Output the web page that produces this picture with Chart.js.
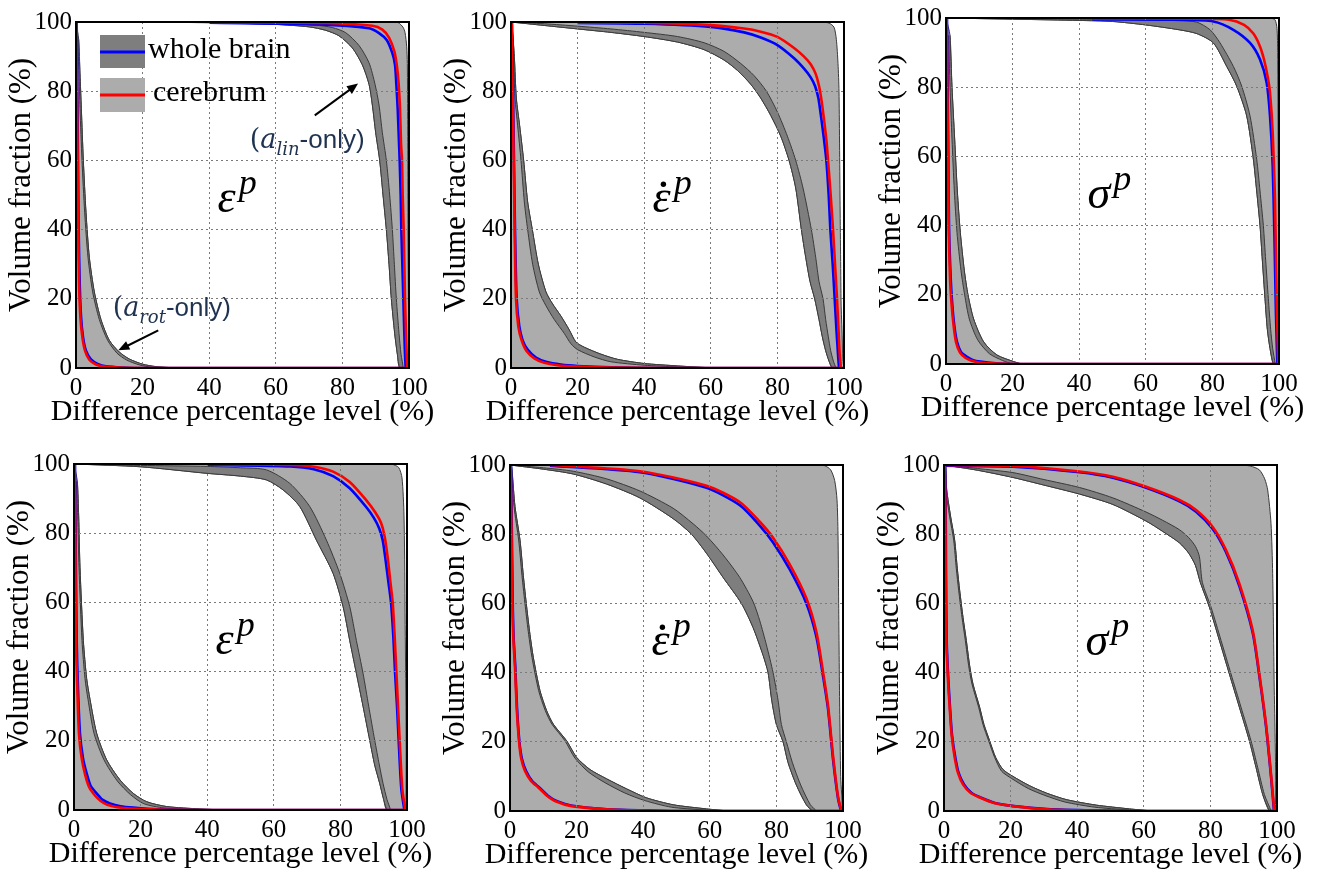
<!DOCTYPE html>
<html>
<head>
<meta charset="utf-8">
<script src="https://cdn.jsdelivr.net/npm/chart.js@4.4.1/dist/chart.umd.min.js"></script>
<style>
  body { margin: 0; background: #fff; width: 1326px; height: 872px; position: relative; overflow: hidden; }
  canvas { position: absolute; }
</style>
</head>
<body>
<canvas id="c0" width="440" height="430" style="left:0px;top:0px"></canvas>
<canvas id="c1" width="440" height="430" style="left:435px;top:0px"></canvas>
<canvas id="c2" width="440" height="430" style="left:870px;top:-4px"></canvas>
<canvas id="c3" width="440" height="430" style="left:-2px;top:442px"></canvas>
<canvas id="c4" width="440" height="430" style="left:434px;top:443px"></canvas>
<canvas id="c5" width="440" height="430" style="left:868px;top:443px"></canvas>
<script>
// axis / labels
const tickValues = [0, 20, 40, 60, 80, 100];
const xTitle = 'Difference percentage level (%)';
const yTitle = 'Volume fraction (%)';
const legendLabels = ['whole brain', 'cerebrum'];
const symbols = ['ε', 'ε', 'σ', 'ε', 'ε', 'σ'];
const symbolDot = [false, true, false, false, true, false];

// curves are [x, y] pairs
// rotA/rotB = edges of the dark band of the a_rot-only group, linA/linB = same for a_lin-only
// linEdge = right edge of the light band, blue = whole brain, red = cerebrum

// panel 1 (top left, eps)
const p1RotA = [[0.5,95],[0.9,85],[1.2,75],[1.8,60],[2.6,45],[3.6,32],[5,22],[7,14],[9.5,8],[12.3,4.3],[15.2,2.3],[19,0.9],[23,0.2],[28,0]];
const p1RotB = [[0.8,95],[1.2,85],[1.6,75],[2.2,60],[3,45],[4,32],[5.5,22],[7.5,14],[10,8],[13,4.6],[16,2.6],[20,1.1],[24,0.4],[30,0]];
const p1RotBlue = [[0.2,100],[0.4,80],[0.6,60],[0.8,40],[1.1,25],[1.5,15],[2.1,9],[3,5],[4.5,2.5],[6.5,1.2],[9,0.5],[14,0.15],[20,0],[100,0]];
const p1RotRed = [[0.1,100],[0.3,80],[0.5,60],[0.7,40],[0.9,25],[1.3,15],[1.9,9],[2.7,5],[4,2.4],[6,1],[8.5,0.4],[13,0.1],[20,0],[100,0]];
const p1LinA = [[0,100],[40,99.8],[60,99.3],[70,98.6],[75,97.6],[79,96],[83,92.5],[86,87.6],[88,82],[89,76],[90,68],[91.2,60],[92.2,50],[93.2,40],[94,30],[94.7,20],[95.7,10],[96.5,4],[97.2,0]];
const p1LinB = [[0,100],[45,99.9],[62,99.6],[72,99.1],[77,98.4],[81,96.9],[85,93.2],[88,88.2],[89.8,82],[91,76],[92,68],[93.2,60],[94.2,50],[95,40],[95.6,30],[96.2,20],[97,10],[97.6,4],[98.2,0]];
const p1LinBlue = [[40,99.8],[73,99.3],[88,98.2],[91,96.8],[93.3,94.8],[95,91],[95.8,87.6],[96.2,82],[96.6,75],[97,65],[97.2,60],[97.5,50],[97.7,40],[98,30],[98.3,20],[98.6,10],[98.8,4],[99,0]];
const p1LinRed = [[40,100],[75,99.7],[89,98.9],[92,97.8],[94,95.5],[95.6,91.5],[96.4,87],[96.9,82],[97.3,75],[97.6,65],[97.9,60],[98.1,50],[98.4,40],[98.6,30],[98.8,20],[99.1,10],[99.3,4],[99.5,0]];
const p1LinEdge = [[95,100],[96.8,99.8],[98.2,98.5],[98.8,97],[99.3,93],[99.5,88],[99.6,70],[99.7,40],[99.8,0]];

// panel 2 (top middle, eps dot)
const p2RotA = [[0.3,98],[0.8,90],[1.2,78],[2,70],[3,60],[4,48],[5,40],[6.5,30],[8.5,22],[10.5,18],[13,14],[16,10],[18,7],[20,5.3],[25,3.2],[30,1.8],[40,0.8],[50,0.3],[58,0]];
const p2RotB = [[0.4,98],[1,90],[1.6,78],[2.6,70],[3.8,60],[5,48],[6.4,40],[8.2,30],[10.5,22],[12.5,18.5],[15,15],[17.5,11],[19.5,7.5],[22,6],[27,4],[32,2.5],[40,1.3],[50,0.6],[60,0]];
const p2RotBlue = [[0.3,100],[0.6,80],[0.9,60],[1.2,40],[1.7,20],[2.5,12],[3.5,8],[5,5.3],[7.5,3],[10.5,1.8],[15,1],[20,0.6],[30,0.2],[45,0],[100,0]];
const p2RotRed = [[0.2,100],[0.5,80],[0.8,60],[1.1,40],[1.5,20],[2.2,12],[3.2,8],[4.6,5],[7,2.8],[10,1.5],[14,0.8],[20,0.4],[30,0.1],[45,0],[100,0]];
const p2LinA = [[0,100],[10,99],[20,98],[30,97],[40,95.8],[50,94.2],[58,92],[64,89],[68,86],[72,82],[75,78],[78,73],[81,67],[83.5,60],[85.5,52],[87.2,40],[88.5,32],[89.8,25],[91.2,20],[92.5,14],[93.5,9],[94.5,5],[95.5,2],[96.5,0]];
const p2LinB = [[0,100],[10,99.5],[20,98.8],[30,98],[40,97],[50,95.8],[58,94],[64,91.5],[69,88],[73,84.5],[76.7,80],[80,74],[83,67],[85.5,60],[87.7,52],[90.2,40],[91.5,32],[92.5,25],[93.7,20],[94.5,14],[95.3,9],[96,5],[96.8,2],[97.5,0]];
const p2LinBlue = [[20,99.7],[40,99.5],[60,98.6],[70,97],[75,95.5],[80,93.3],[85,89.5],[88,86.5],[90,84],[91.3,81.5],[92.3,78],[93.2,72],[94,66],[94.7,60],[95.4,50],[95.9,40],[96.6,30],[97.2,20],[97.8,10],[98.2,4],[98.5,0]];
const p2LinRed = [[20,99.9],[40,99.8],[60,99.1],[70,98.1],[75,97.2],[80,95.7],[85,92.5],[88,90],[90,87.8],[91.5,85],[92.5,81.5],[93.3,77],[94.1,71],[94.8,65],[95.2,60],[96,50],[96.7,40],[97.3,30],[97.9,20],[98.4,10],[98.7,4],[99,0]];
const p2LinEdge = [[93,100],[95.5,99.7],[97,98.5],[97.7,95],[98.2,88],[98.5,80],[98.8,50],[99.1,20],[99.3,0]];

// panel 3 (top right, sigma)
const p3RotA = [[0.8,95],[1.2,80],[1.8,65],[2.5,50],[3.3,38],[4.5,27],[5.6,20],[7,13],[9.5,7],[13,3],[17,1],[20,0]];
const p3RotB = [[1.2,95],[1.8,80],[2.6,65],[3.4,50],[4.3,38],[5.5,27],[6.6,20],[8.3,13],[11.3,6.4],[15.3,2.6],[20.3,0.7],[22.5,0]];
const p3RotBlue = [[0.3,100],[0.5,80],[0.7,60],[0.9,40],[1.4,25],[1.9,17],[2.5,11],[3.3,6.4],[4.5,3.5],[6.3,2.1],[8,1.2],[10.3,0.7],[15,0.2],[20,0],[100,0]];
const p3RotRed = [[0.2,100],[0.4,80],[0.6,60],[0.8,40],[1.2,25],[1.7,17],[2.3,11],[3,6.4],[4.2,3.3],[5.8,1.8],[7.5,1],[10,0.4],[15,0.1],[20,0],[100,0]];
const p3LinA = [[0,100],[40,99.3],[50,99],[60,98],[70,96.6],[75.3,95.5],[80.3,92.8],[84.3,86],[87.3,80.3],[90.3,71.7],[92.3,59.2],[93.3,50],[94.3,40],[95,30],[95.8,18.9],[96.5,10],[97.3,4.5],[98.3,0]];
const p3LinB = [[0,100],[40,99.7],[60,99.5],[70,99.2],[75.3,98.8],[79.3,96.6],[82.3,92.8],[86.3,86],[88.8,80.3],[91.3,71.7],[93.3,59.2],[94.3,50],[95.3,40],[96,30],[96.8,18.9],[97.5,10],[98.1,4.5],[98.8,0]];
const p3LinBlue = [[44,99.6],[70,99.5],[80.3,99],[86.3,96.6],[91.3,92.8],[94.3,88],[96.3,81.3],[97.3,71.7],[98.1,57.3],[98.6,38],[99.1,14],[99.5,0]];
const p3LinRed = [[44,99.9],[75,99.8],[85,99.5],[89.5,98],[92.3,95.5],[94.2,92],[95.5,88],[96.6,83],[97.3,78.4],[98.1,66.9],[98.8,47.7],[99.3,18.9],[99.8,0]];
const p3LinEdge = [[97.5,100],[98.8,99.5],[99.4,97],[99.6,90],[99.8,50],[99.9,0]];

// panel 4 (bottom left, eps)
const p4RotA = [[0.7,95],[1.1,85],[1.5,70],[2.4,49],[3.3,38],[4.2,32],[6,22.2],[9,14.5],[13,8.4],[17,4.4],[21,1.8],[27,0.6],[37,0.1],[42,0]];
const p4RotB = [[1,95],[1.4,85],[1.8,70],[2.8,49],[3.8,38],[4.8,32],[6.8,22.2],[9.8,14.5],[13.8,8.7],[17.8,4.8],[21.8,2.4],[27.8,1],[37.8,0.3],[45,0]];
const p4RotBlue = [[0.3,100],[0.5,80],[0.8,49],[1.2,35],[1.8,22],[2.7,15],[3.8,10.6],[5,7],[6.8,4.8],[8.5,3],[10.8,1.9],[14,1.1],[17.8,0.7],[25,0.2],[35,0],[100,0]];
const p4RotRed = [[0.2,100],[0.4,80],[0.6,49],[1,35],[1.5,22],[2.3,15],[3.4,10],[4.6,6.5],[6.3,4.2],[8,2.6],[10,1.5],[13,0.8],[17,0.4],[25,0.1],[35,0],[100,0]];
const p4LinA = [[0,100],[20,99.2],[40,97.3],[50,96.5],[57.8,95.4],[62.8,92.5],[67.8,87.7],[72.8,78],[77.8,68.4],[80.8,58.8],[82.8,49],[84.8,39.5],[86.8,30],[88.8,20.2],[90.3,13],[91.8,7.7],[93,3],[94,0]];
const p4LinB = [[0,100],[20,99.6],[40,99.3],[50,98.9],[57.8,98.3],[64.8,94.4],[70.8,87.7],[75.8,78],[79.8,68.4],[82.8,58.8],[84.8,49],[86.8,39.5],[88.5,30],[90.3,20.2],[91.7,13],[92.8,7.7],[94,3],[95,0]];
const p4LinBlue = [[40,99.8],[65,99.3],[72,98.5],[77.8,96.5],[82.8,93],[87.8,87.5],[90,84.5],[91.6,81.5],[92.7,78],[93.6,72],[94.4,66],[95.2,60],[95.9,50],[96.4,40],[97,30],[97.5,20],[98.3,6],[99.2,0]];
const p4LinRed = [[40,100],[65,99.7],[72,99.2],[77.8,97.8],[82.8,94.8],[87.8,89.5],[90.5,86],[92.2,83],[93.3,79],[94.2,73],[95,66],[95.7,60],[96.3,50],[96.8,40],[97.3,30],[97.8,20],[98.6,6],[99.5,0]];
const p4LinEdge = [[95.5,100],[97.5,99],[98.5,96],[99.1,85],[99.4,60],[99.6,0]];

// panel 5 (bottom middle, eps dot)
const p5RotA = [[0.3,100],[0.4,98.6],[1.2,88],[2.6,78.3],[3.6,68],[4.6,59],[5.6,51],[6.6,44.4],[8.6,34.8],[10.6,29],[12.6,25.1],[16.5,20.3],[19.5,15.3],[23.5,11.3],[28.5,8.2],[34.5,5.2],[40.5,3],[48.5,1.1],[58,0.3],[62,0]];
const p5RotB = [[0.4,100],[0.6,98.6],[1.5,88],[3,78.3],[4,68],[5,59],[6,51],[7,44.4],[9,34.8],[11,29],[13,25.1],[17,20.3],[20,15.5],[24,12],[29,9.3],[35,6.4],[41,3.8],[49,1.8],[59,0.6],[65,0]];
const p5RotBlue = [[0.3,100],[0.5,85],[0.8,61],[1.1,50],[1.6,41.5],[2.1,30],[2.8,20.3],[3.6,15],[4.8,11.6],[6.6,8.7],[8.8,6.8],[11.3,4.5],[13.8,3],[18.8,1.5],[28.4,0.6],[40,0.2],[50,0],[100,0]];
const p5RotRed = [[0.2,100],[0.4,85],[0.7,61],[1,50],[1.5,41.5],[2,30],[2.7,20.3],[3.4,15],[4.5,11.6],[6.3,8.7],[8.5,6.8],[11,4.5],[13.5,2.9],[18.5,1.4],[28.4,0.5],[40,0.1],[50,0],[100,0]];
const p5LinA = [[0,100],[10,98.8],[19,97.4],[29,94.5],[39,90.5],[49,84.5],[54.5,80],[59,74.5],[64,67.5],[69.5,60],[73,53],[76,45],[77.5,40],[78.6,32],[80,25],[82,20],[83.5,14],[86,7.5],[89,1.8],[91,0]];
const p5LinB = [[0,100],[10,99.2],[19,98.2],[29,96],[39,92.5],[49,87.5],[55,83],[59,79.5],[64,74],[69,67.5],[73,60.5],[75,55],[77,48],[79,40],[80.5,32],[81.5,25],[83,20],[84.8,14],[87.3,7.5],[90.2,1.8],[92,0]];
const p5LinBlue = [[12,99.8],[39,97.9],[59,93.4],[69,88.4],[75,82.5],[79,77.6],[84,69.8],[89,60],[92,50.4],[94,39],[95.5,29.5],[97,15],[98.5,3.7],[99.4,0]];
const p5LinRed = [[12,100],[39,98.2],[59,94],[69,89.3],[75,83.6],[79,79],[84,71.3],[89,61.5],[92,51.8],[94,40.2],[95.5,30.5],[97,16],[98.5,4.2],[99.5,0]];
const p5LinEdge = [[92,100],[94.5,99.8],[96.3,98.6],[97.5,95.5],[98.2,90],[98.5,80],[98.7,60],[99,30],[99.3,10],[99.6,0]];

// panel 6 (bottom right, sigma)
const p6RotA = [[0.3,100],[0.5,93],[1.7,85],[2.9,78.3],[3.7,70],[4.4,63.8],[5.4,56],[6.4,49.3],[7.4,42],[8.4,36.7],[10.4,30],[11.7,25],[13.4,20.3],[15.2,15.5],[17.3,11.5],[20.3,9.4],[25.3,6.5],[30.3,4.5],[36.3,2.6],[45.3,1.1],[55.3,0.3],[60,0]];
const p6RotB = [[0.5,100],[0.8,93],[2,85],[3.2,78.3],[4,70],[4.7,63.8],[5.7,56],[6.7,49.3],[7.7,42],[8.7,36.7],[10.7,30],[12,25],[13.7,20.3],[15.5,15.5],[17.7,12],[20.7,10],[25.7,7.3],[30.7,5.2],[36.7,3.3],[45.7,1.7],[55.7,0.6],[62,0]];
const p6RotBlue = [[0.3,100],[0.5,90],[0.6,70],[0.8,49.3],[1.3,38],[1.8,30],[2.4,22],[3.4,15.5],[4.4,11],[6,7.7],[8.3,5.2],[11,3.9],[15.3,2.3],[21,1.4],[31,0.6],[45,0.2],[60,0],[100,0]];
const p6RotRed = [[0.2,100],[0.4,90],[0.5,70],[0.7,49.3],[1.2,38],[1.7,30],[2.3,22],[3.2,15.5],[4.2,11],[5.7,7.7],[8,5.2],[10.7,3.9],[15,2.3],[20.7,1.4],[30.7,0.5],[45,0.1],[60,0],[100,0]];
const p6LinA = [[0,100],[10,98.5],[20.7,96.4],[30,94.2],[40.7,91.6],[50.7,88.6],[60.7,83.8],[65.7,80.8],[70.7,77.5],[73.5,74.5],[75.5,71],[77,66],[79.7,58.9],[82.7,49.3],[85.7,39.6],[88.7,30],[91.7,20.3],[93.7,12.6],[95.7,4.8],[97.7,0]];
const p6LinB = [[0,100],[10,99],[20.7,97.8],[30,95.8],[40.7,93.5],[50.7,90.5],[60.7,86.4],[65.7,84],[70.7,81.3],[73.5,79],[75.5,76.5],[76.7,73.5],[77.6,66],[80.2,58.9],[83.2,49.3],[86.2,39.6],[89.2,30],[92.2,20.3],[94.2,12.6],[96.2,4.8],[98.2,0]];
const p6LinBlue = [[0,99.8],[20.7,99.5],[40.7,97.9],[50.7,96.3],[60.7,93.4],[70.7,89.5],[75.7,86.5],[80.7,81.5],[84.7,74.8],[88.7,65],[92.7,51.5],[94.7,39],[96.7,24.5],[98.2,10],[99.1,0]];
const p6LinRed = [[0,100],[20.7,99.7],[40.7,98.1],[50.7,96.6],[60.7,93.7],[70.7,89.9],[75.7,87],[80.7,82.1],[84.7,75.4],[88.7,65.7],[92.7,52.2],[94.7,39.6],[96.7,25.1],[98.2,10.6],[99.2,0]];
const p6LinEdge = [[89,100],[92,99.7],[94.7,98.6],[96.3,96],[97.2,92.8],[98.2,83.1],[98.7,68.6],[99.1,40],[99.5,0]];

const panels = [
  {rotA: p1RotA, rotB: p1RotB, rotBlue: p1RotBlue, rotRed: p1RotRed, linA: p1LinA, linB: p1LinB, linBlue: p1LinBlue, linRed: p1LinRed, linEdge: p1LinEdge},
  {rotA: p2RotA, rotB: p2RotB, rotBlue: p2RotBlue, rotRed: p2RotRed, linA: p2LinA, linB: p2LinB, linBlue: p2LinBlue, linRed: p2LinRed, linEdge: p2LinEdge},
  {rotA: p3RotA, rotB: p3RotB, rotBlue: p3RotBlue, rotRed: p3RotRed, linA: p3LinA, linB: p3LinB, linBlue: p3LinBlue, linRed: p3LinRed, linEdge: p3LinEdge},
  {rotA: p4RotA, rotB: p4RotB, rotBlue: p4RotBlue, rotRed: p4RotRed, linA: p4LinA, linB: p4LinB, linBlue: p4LinBlue, linRed: p4LinRed, linEdge: p4LinEdge},
  {rotA: p5RotA, rotB: p5RotB, rotBlue: p5RotBlue, rotRed: p5RotRed, linA: p5LinA, linB: p5LinB, linBlue: p5LinBlue, linRed: p5LinRed, linEdge: p5LinEdge},
  {rotA: p6RotA, rotB: p6RotB, rotBlue: p6RotBlue, rotRed: p6RotRed, linA: p6LinA, linB: p6LinB, linBlue: p6LinBlue, linRed: p6LinRed, linEdge: p6LinEdge}
];

const LIGHT = '#acacac';
const DARK = '#7e7e7e';
const EDGE = '#3a3a3a';
const SERIF = '"Liberation Serif", "Times New Roman", serif';

function pts(arr) {
  return arr.map(p => ({x: p[0], y: p[1]}));
}

function area(data, color, order) {
  return {data: pts(data), fill: 'shape', backgroundColor: color, borderColor: EDGE,
          borderWidth: 1, pointRadius: 0, tension: 0.25, order: order};
}

function curve(data, color, order) {
  return {data: pts(data), fill: false, borderColor: color, borderWidth: 2.6,
          pointRadius: 0, tension: 0.25, order: order};
}

function arrow(ctx, x0, y0, x1, y1) {
  const ang = Math.atan2(y1 - y0, x1 - x0);
  ctx.strokeStyle = '#000'; ctx.fillStyle = '#000'; ctx.lineWidth = 2;
  ctx.beginPath(); ctx.moveTo(x0, y0); ctx.lineTo(x1 - 8 * Math.cos(ang), y1 - 8 * Math.sin(ang)); ctx.stroke();
  ctx.beginPath();
  ctx.moveTo(x1, y1);
  ctx.lineTo(x1 - 12 * Math.cos(ang - 0.4), y1 - 12 * Math.sin(ang - 0.4));
  ctx.lineTo(x1 - 12 * Math.cos(ang + 0.4), y1 - 12 * Math.sin(ang + 0.4));
  ctx.closePath(); ctx.fill();
}

function annoText(ctx, x, y, sub) {
  ctx.fillStyle = '#1f3350'; ctx.textAlign = 'left'; ctx.textBaseline = 'alphabetic';
  let cx = x;
  ctx.font = '27px "DejaVu Serif"';
  ctx.fillText('(', cx, y); cx += ctx.measureText('(').width;
  ctx.font = 'italic 27px "DejaVu Serif"';
  ctx.fillText('a', cx, y); cx += ctx.measureText('a').width;
  ctx.font = 'italic 18px "DejaVu Serif"';
  ctx.fillText(sub, cx, y + 7); cx += ctx.measureText(sub).width;
  ctx.font = '26px "Liberation Sans"';
  ctx.fillText('-only)', cx, y);
}

function decoPlugin(idx) {
  return {
    id: 'deco' + idx,
    afterDraw(chart) {
      const {ctx, chartArea: a, scales: {x, y}} = chart;
      ctx.save();
      // box
      ctx.strokeStyle = '#000'; ctx.lineWidth = 2;
      ctx.strokeRect(a.left, a.top, a.right - a.left, a.bottom - a.top);
      // axis titles
      ctx.fillStyle = '#000'; ctx.textAlign = 'center'; ctx.textBaseline = 'middle';
      ctx.font = '30px ' + SERIF;
      ctx.fillText(xTitle, (a.left + a.right) / 2, a.bottom + 44);
      ctx.save();
      ctx.translate(22, (a.top + a.bottom) / 2 - 10);
      ctx.rotate(-Math.PI / 2);
      ctx.font = '31px ' + SERIF;
      ctx.fillText(yTitle, 0, 0);
      ctx.restore();
      // symbol
      const sx = x.getPixelForValue(42.5), sy = y.getPixelForValue(45);
      ctx.textAlign = 'left'; ctx.textBaseline = 'alphabetic';
      ctx.font = 'italic 46px ' + SERIF;
      ctx.fillText(symbols[idx], sx, sy);
      const w = ctx.measureText(symbols[idx]).width;
      if (symbolDot[idx]) {
        ctx.beginPath(); ctx.arc(sx + w * 0.6, sy - 28, 2.7, 0, Math.PI * 2); ctx.fill();
      }
      ctx.font = 'italic 36px ' + SERIF;
      ctx.fillText('p', sx + w + 3, sy - 18);

      if (idx === 0) {
        // legend
        const lx = a.left + 24;
        ctx.fillStyle = DARK; ctx.fillRect(lx, a.top + 13, 45, 33);
        ctx.fillStyle = LIGHT; ctx.fillRect(lx, a.top + 56, 45, 34);
        ctx.lineWidth = 3;
        ctx.strokeStyle = '#0000ff'; ctx.beginPath(); ctx.moveTo(lx, a.top + 30); ctx.lineTo(lx + 45, a.top + 30); ctx.stroke();
        ctx.strokeStyle = '#ff0000'; ctx.beginPath(); ctx.moveTo(lx, a.top + 73); ctx.lineTo(lx + 45, a.top + 73); ctx.stroke();
        ctx.fillStyle = '#000'; ctx.textBaseline = 'middle';
        ctx.font = '30px ' + SERIF;
        ctx.fillText(legendLabels[0], a.left + 72, a.top + 28);
        ctx.fillText(legendLabels[1], a.left + 77, a.top + 71);
        // annotations
        annoText(ctx, x.getPixelForValue(52.2), y.getPixelForValue(63.6), 'lin');
        annoText(ctx, x.getPixelForValue(11), y.getPixelForValue(15), 'rot');
        arrow(ctx, x.getPixelForValue(71.7), y.getPixelForValue(73), x.getPixelForValue(84.7), y.getPixelForValue(82.2));
        arrow(ctx, x.getPixelForValue(24.7), y.getPixelForValue(10.9), x.getPixelForValue(12.7), y.getPixelForValue(5.1));
      }
      ctx.restore();
    }
  };
}

function axis(isX) {
  return {
    type: 'linear', min: 0, max: 100,
    afterBuildTicks: s => { s.ticks = tickValues.map(v => ({value: v})); },
    afterFit: s => { if (isX) s.height = 62; else s.width = 76; },
    grid: {z: 1, color: '#7a7a7a', lineWidth: 1, drawTicks: false},
    border: {display: false, dash: [2, 3]},
    ticks: {color: '#000', padding: isX ? 5 : 4, maxRotation: 0, autoSkip: false,
            font: {family: SERIF, size: 25}}
  };
}

panels.forEach((d, idx) => {
  const lightRot = [[0, 100], ...d.rotB, [0, 0]];
  const lightLin = [...d.linA, ...d.linEdge.slice().reverse()];
  const darkRot = [...d.rotA, ...d.rotB.slice().reverse()];
  const darkLin = [...d.linA, ...d.linB.slice().reverse()];
  new Chart(document.getElementById('c' + idx), {
    type: 'line',
    data: {
      datasets: [
        curve(d.rotRed, '#ff0000', 1),
        curve(d.linRed, '#ff0000', 1),
        curve(d.rotBlue, '#0000ff', 2),
        curve(d.linBlue, '#0000ff', 2),
        area(darkRot, DARK, 3),
        area(darkLin, DARK, 3),
        area(lightRot, LIGHT, 4),
        area(lightLin, LIGHT, 4)
      ]
    },
    options: {
      responsive: false,
      animation: false,
      devicePixelRatio: 1,
      events: [],
      layout: {padding: {top: 22, right: 31, left: 0, bottom: 0}},
      plugins: {legend: {display: false}, tooltip: {enabled: false}},
      scales: {x: axis(true), y: axis(false)}
    },
    plugins: [decoPlugin(idx)]
  });
});
</script>
</body>
</html>
